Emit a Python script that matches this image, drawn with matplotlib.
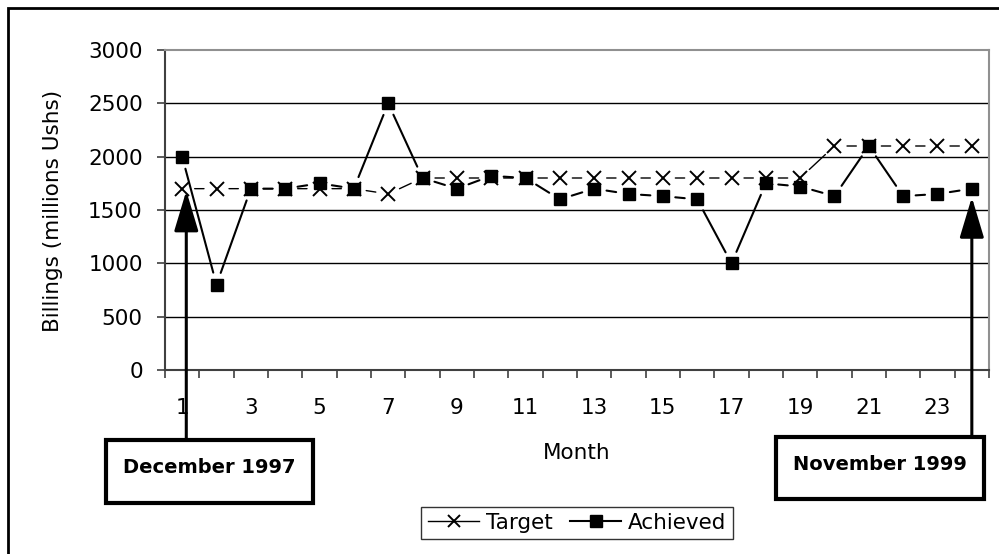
import matplotlib
matplotlib.use("Agg")
import matplotlib.pyplot as plt
from matplotlib.patches import Rectangle
from matplotlib.lines import Line2D

months = list(range(1, 25))
target = [1700, 1700, 1700, 1700, 1700, 1700, 1650, 1800, 1800, 1800, 1800, 1800,
          1800, 1800, 1800, 1800, 1800, 1800, 1800, 2100, 2100, 2100, 2100, 2100]
achieved = [2000, 800, 1700, 1700, 1750, 1700, 2500, 1800, 1700, 1820, 1800, 1600,
            1700, 1650, 1630, 1600, 1000, 1750, 1720, 1630, 2100, 1630, 1650, 1700]
yticks = [0, 500, 1000, 1500, 2000, 2500, 3000]
xlabels = [1, 3, 5, 7, 9, 11, 13, 15, 17, 19, 21, 23]

W, H = 999, 554
FS = 15.5

fig = plt.figure(figsize=(W / 100, H / 100), dpi=100)
plt.rcParams['font.family'] = 'DejaVu Sans'


def fx(px):
    return px / W


def fy(py):
    # pixel rows counted from the top
    return 1 - py / H


# outer chart border
fig.add_artist(Rectangle((fx(8), fy(560)), fx(1010), (560 - 8) / H,
                         transform=fig.transFigure, fill=False, lw=2, ec='black'))

ax = fig.add_axes([fx(165), fy(370), fx(989 - 165), (370 - 50) / H])
ax.set_xlim(0.5, 24.5)
ax.set_ylim(0, 3000)
ax.set_yticks(yticks)
ax.set_xticks(xlabels)
ax.set_xticks([m - 0.5 for m in months] + [24.5], minor=True)
ax.tick_params(axis='y', labelsize=FS, length=6, width=1.2, color='#404040', pad=10)
ax.tick_params(axis='x', which='major', labelsize=FS, length=0, pad=20)
ax.tick_params(axis='x', which='minor', length=6, width=1.2, color='#404040')
for y in yticks[1:-1]:
    ax.axhline(y, color='black', lw=1, zorder=1)
for s in ['left', 'bottom']:
    ax.spines[s].set_color('#404040')
    ax.spines[s].set_linewidth(1.5)
for s in ['top', 'right']:
    ax.spines[s].set_color('#909090')
    ax.spines[s].set_linewidth(1.5)


def draw_series(vals, marker, ms, lw, mew, z):
    # segments stop short of the markers
    for i in range(len(vals) - 1):
        ax.annotate('', xy=(months[i + 1], vals[i + 1]), xytext=(months[i], vals[i]),
                    arrowprops=dict(arrowstyle='-', lw=lw, color='black',
                                    shrinkA=9, shrinkB=9), zorder=z)
    ax.plot(months, vals, ls='none', marker=marker, ms=ms, mew=mew,
            color='black', zorder=z + 0.5, clip_on=False)


draw_series(target, 'x', 9.5, 1.0, 1.4, 3)
draw_series(achieved, 's', 9, 1.5, 1, 4)

fig.text(fx(53), fy(211), 'Billings (millions Ushs)', rotation=90,
         ha='center', va='center', fontsize=FS)
fig.text(fx(577), fy(453), 'Month', ha='center', va='center', fontsize=FS)

handles = [Line2D([], [], color='black', lw=1.0, marker='x', ms=9, mew=1.4),
           Line2D([], [], color='black', lw=1.5, marker='s', ms=8)]
leg = fig.legend(handles, ['Target', 'Achieved'], loc='center', ncol=2,
                 bbox_to_anchor=(fx(577), fy(523)), fontsize=FS, frameon=True,
                 fancybox=False, edgecolor='black', handlelength=2.4,
                 handletextpad=0.3, columnspacing=0.8, borderpad=0.3)
leg.get_frame().set_linewidth(1)

# date boxes with arrows pointing at the first and last month
boxes = [((106, 440, 313, 503), 'December 1997', (1.12, 1680)),
         ((776, 437, 984, 499), 'November 1999', (24, 1620))]
for (x0, y0, x1, y1), label, tip in boxes:
    fig.add_artist(Rectangle((fx(x0), fy(y1)), fx(x1 - x0), (y1 - y0) / H,
                             transform=fig.transFigure, fill=True, fc='white',
                             lw=3, ec='black', zorder=5))
    fig.text(fx((x0 + x1) / 2), fy((y0 + y1) / 2 - 4), label, ha='center', va='center',
             fontsize=14, fontweight='bold', zorder=6)
    ax.annotate('', xy=tip, xycoords='data',
                xytext=(tip[0], fy(y0)), textcoords=('data', 'figure fraction'),
                arrowprops=dict(arrowstyle='-|>,head_length=2.5,head_width=0.75',
                                mutation_scale=10, lw=2.2, color='black',
                                shrinkA=0, shrinkB=0),
                annotation_clip=False, zorder=4.5)

fig.savefig('out.png', dpi=100)
